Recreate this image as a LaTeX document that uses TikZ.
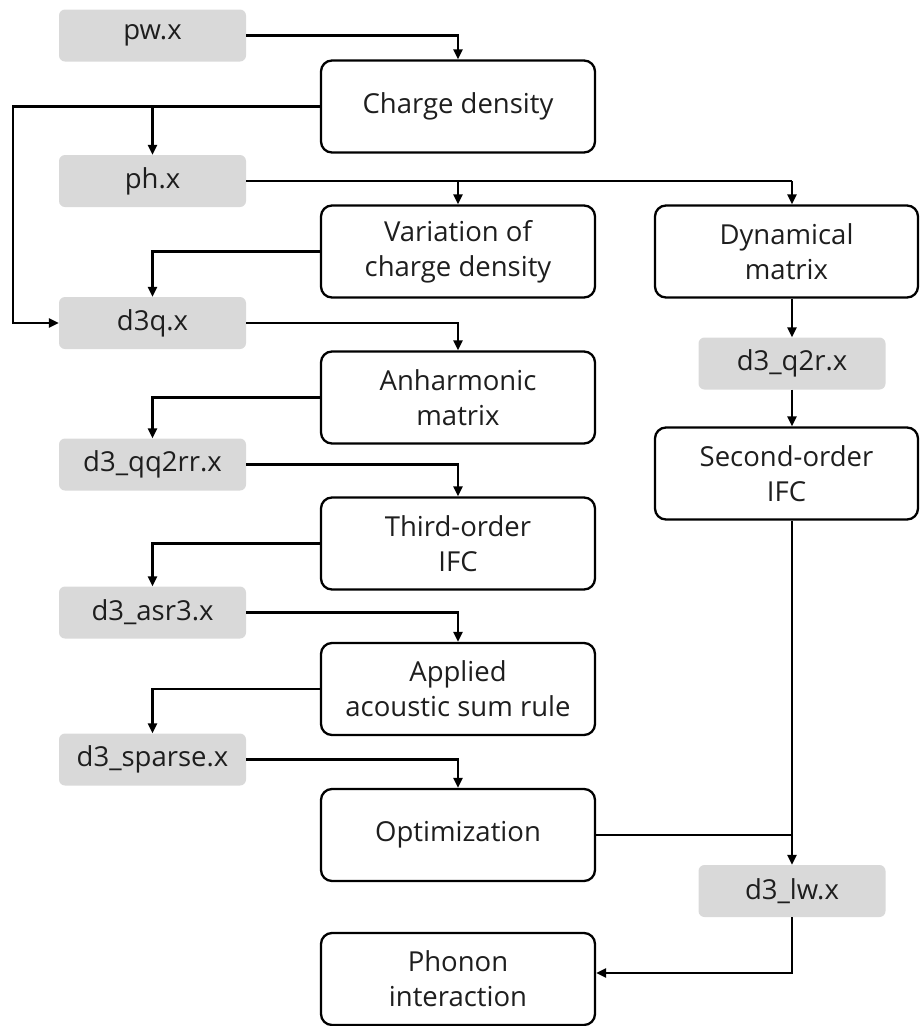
\documentclass[tikz,border=0pt]{standalone}
\usepackage{fontspec}
\setmainfont{Open Sans}
\usetikzlibrary{arrows.meta}
\definecolor{boxgray}{HTML}{D9D9D9}
\definecolor{txt}{HTML}{1E1E1E}
\begin{document}
\begin{tikzpicture}[x=1pt,y=-1pt,
  proc/.style={draw=black,line width=2.3pt,rounded corners=11pt,fill=white,
    minimum width=274pt,minimum height=92pt,align=center,text=txt,
    font=\fontsize{27.5}{35}\selectfont,inner sep=0pt},
  prog/.style={fill=boxgray,rounded corners=6pt,minimum width=187pt,minimum height=52pt,
    text=txt,font=\fontsize{27.5}{35}\selectfont,inner sep=0pt},
  arr/.style={line width=2.3pt,-{Triangle[length=10pt,width=9pt]}},
  ln/.style={line width=2.3pt}]
\useasboundingbox (0,0) rectangle (920,1026);
% left column (programs)
\node[prog] (pw) at (152.5,35.5) {pw.x};
\node[prog] (ph) at (152.5,181) {ph.x};
\node[prog] (d3q) at (152.5,323) {d3q.x};
\node[prog] (qq) at (152.5,464.5) {d3\_qq2rr.x};
\node[prog] (asr) at (152.5,612.5) {d3\_asr3.x};
\node[prog] (sp) at (152.5,759.5) {d3\_sparse.x};
% middle column
\node[proc] (chg) at (458,106.5) {Charge density};
\node[proc] (var) at (458,251.5) {Variation of\\charge density};
\node[proc] (anh) at (458,397.5) {Anharmonic\\matrix};
\node[proc] (thr) at (458,543.5) {Third-order\\IFC};
\node[proc] (app) at (458,689) {Applied\\acoustic sum rule};
\node[proc] (opt) at (458,835) {Optimization};
\node[proc] (pho) at (458,979) {Phonon\\interaction};
% right column
\node[proc,minimum width=263pt] (dyn) at (786.5,251.5) {Dynamical\\matrix};
\node[prog] (q2r) at (792,363.5) {d3\_q2r.x};
\node[proc,minimum width=263pt] (sec) at (786.5,473.5) {Second-order\\IFC};
\node[prog] (lw) at (792,891) {d3\_lw.x};
\coordinate (L) at (13,0);
% connectors
\draw[arr] (pw.east) -| (chg.north);
\draw[arr] (chg.west) -- (chg.west -| L) -- (L |- d3q.west) -- (d3q.west);
\draw[arr] (ph.north |- chg.west) -- (ph.north);
\draw[ln] (ph.east) -- (ph.east -| q2r);
\draw[arr] (ph.east -| q2r) -- (q2r |- dyn.north);
\draw[arr] (ph.east -| var.north) -- (var.north);
\draw[arr] (var.west) -| (d3q.north);
\draw[arr] (d3q.east) -| (anh.north);
\draw[arr] (anh.west) -| (qq.north);
\draw[arr] (qq.east) -| (thr.north);
\draw[arr] (thr.west) -| (asr.north);
\draw[arr] (asr.east) -| (app.north);
\draw[arr] (app.west) -| (sp.north);
\draw[arr] (sp.east) -| (opt.north);
\draw[arr] (q2r |- dyn.south) -- (q2r.north);
\draw[arr] (q2r.south) -- (q2r |- sec.north);
\draw[arr] (q2r |- sec.south) -- (lw.north);
\draw[ln] (opt.east) -- (opt.east -| lw);
\draw[arr] (lw.south) |- ([yshift=6pt]pho.east);
\end{tikzpicture}
\end{document}
